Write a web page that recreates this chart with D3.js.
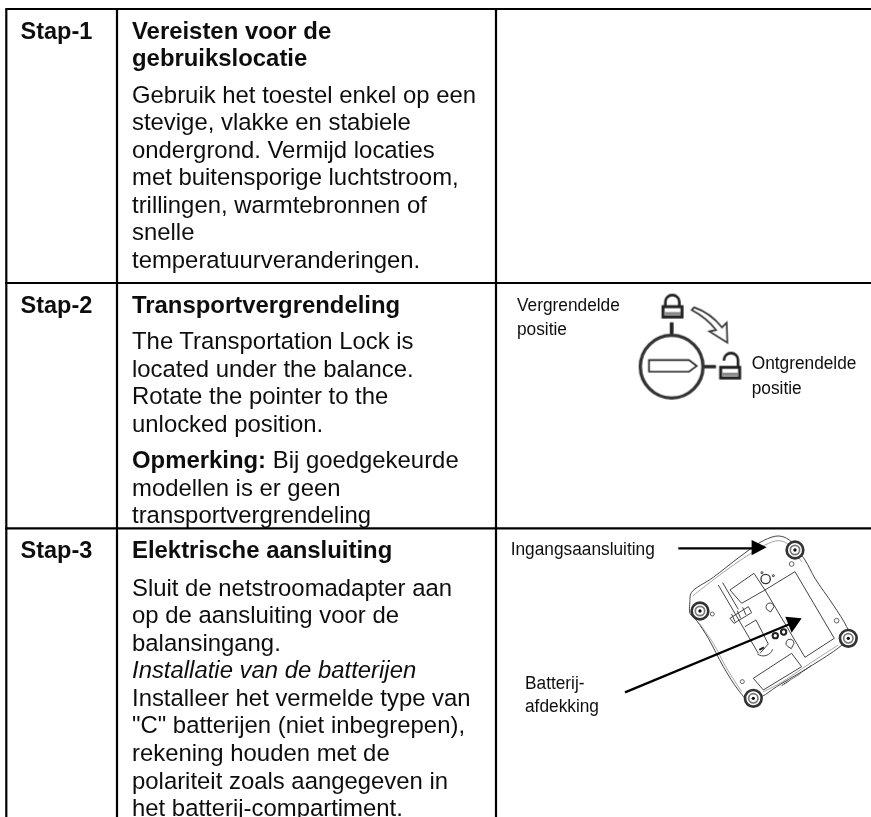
<!DOCTYPE html>
<html>
<head>
<meta charset="utf-8">
<script src="https://cdn.jsdelivr.net/npm/d3@7"></script>
<style>
    html, body { margin: 0; padding: 0; background: #fff; }
    svg { display: block; }
    text { font-family: "Liberation Sans", Arial, sans-serif; fill: #111; }
</style>
</head>
<body>
<div id="chart"></div>
<script>
// step labels
var steps = ["Stap-1", "Stap-2", "Stap-3"];

// middle column, one list per step. b = bold, i = italic, gap = new paragraph
var step1Lines = [
    [{ t: "Vereisten voor de", b: 1 }],
    [{ t: "gebruikslocatie", b: 1 }],
    [{ t: "Gebruik het toestel enkel op een", gap: 1 }],
    [{ t: "stevige, vlakke en stabiele" }],
    [{ t: "ondergrond. Vermijd locaties" }],
    [{ t: "met buitensporige luchtstroom," }],
    [{ t: "trillingen, warmtebronnen of" }],
    [{ t: "snelle" }],
    [{ t: "temperatuurveranderingen." }]
];
var step2Lines = [
    [{ t: "Transportvergrendeling", b: 1 }],
    [{ t: "The Transportation Lock is", gap: 1 }],
    [{ t: "located under the balance." }],
    [{ t: "Rotate the pointer to the" }],
    [{ t: "unlocked position." }],
    [{ t: "Opmerking:", b: 1, gap: 1 }, { t: " Bij goedgekeurde" }],
    [{ t: "modellen is er geen" }],
    [{ t: "transportvergrendeling" }]
];
var step3Lines = [
    [{ t: "Elektrische aansluiting", b: 1 }],
    [{ t: "Sluit de netstroomadapter aan", gap: 1 }],
    [{ t: "op de aansluiting voor de" }],
    [{ t: "balansingang." }],
    [{ t: "Installatie van de batterijen", i: 1 }],
    [{ t: "Installeer het vermelde type van" }],
    [{ t: "\"C\" batterijen (niet inbegrepen)," }],
    [{ t: "rekening houden met de" }],
    [{ t: "polariteit zoals aangegeven in" }],
    [{ t: "het batterij-compartiment." }]
];
var stepLines = [step1Lines, step2Lines, step3Lines];

var width = 871,
    height = 817,
    rowTops = [9, 283, 528.3],
    colX = [6.3, 117, 496],
    fontSize = 23.9,
    lineStep = 27.55,
    paraGaps = [8.8, 8.8, 10.2];

var svg = d3.select("#chart").append("svg")
    .attr("width", width)
    .attr("height", height);

var defs = svg.append("defs");
defs.append("filter").attr("id", "soft")
    .append("feGaussianBlur").attr("stdDeviation", 0.35);
defs.append("filter").attr("id", "softer")
    .append("feGaussianBlur").attr("stdDeviation", 0.8);

// text of the table
var textLayer = svg.append("g").attr("filter", "url(#soft)");

steps.forEach(function (s, i) {
    var first = rowTops[i] + 29.6;

    textLayer.append("text")
        .attr("x", 20.5)
        .attr("y", first)
        .attr("font-size", 23.5)
        .attr("font-weight", "bold")
        .text(s);

    var y = first;
    stepLines[i].forEach(function (spans, n) {
        if (n > 0) y += lineStep + (spans[0].gap ? paraGaps[i] : 0);
        var line = textLayer.append("text")
            .attr("x", 132)
            .attr("y", y)
            .attr("font-size", fontSize)
            .attr("xml:space", "preserve");
        spans.forEach(function (sp) {
            line.append("tspan")
                .attr("font-weight", sp.b ? "bold" : "normal")
                .attr("font-style", sp.i ? "italic" : "normal")
                .text(sp.t);
        });
    });
});

// grid lines on top, the descenders in step 2 run into the rule
var grid = svg.append("g").attr("stroke", "#000").attr("stroke-width", 2.2);
rowTops.forEach(function (y) {
    grid.append("line").attr("x1", colX[0] - 1).attr("x2", width).attr("y1", y).attr("y2", y);
});
colX.forEach(function (x) {
    grid.append("line").attr("x1", x).attr("x2", x).attr("y1", rowTops[0]).attr("y2", height);
});

// callout labels, they are a narrowed Arial in the source
var calloutLabels = [
    { t: "Vergrendelde", x: 517, y: 311 },
    { t: "positie", x: 517, y: 334.5 },
    { t: "Ontgrendelde", x: 751.7, y: 369 },
    { t: "positie", x: 751.7, y: 393.5 },
    { t: "Ingangsaansluiting", x: 510.7, y: 555 },
    { t: "Batterij-", x: 525, y: 689 },
    { t: "afdekking", x: 525, y: 712 }
];
var labelLayer = svg.append("g").attr("filter", "url(#soft)");
calloutLabels.forEach(function (d) {
    labelLayer.append("text")
        .attr("transform", "translate(" + d.x + "," + d.y + ") scale(0.91,1)")
        .attr("font-size", 19)
        .text(d.t);
});

var line = d3.line();
var curve = d3.line().curve(d3.curveCatmullRom);

// lock dial, coordinates are 3x
var dial = svg.append("g")
    .attr("transform", "translate(510,290) scale(0.3333)")
    .attr("filter", "url(#softer)")
    .attr("fill", "none")
    .attr("stroke", "#222");

dial.append("circle").attr("cx", 485).attr("cy", 230).attr("r", 94).attr("stroke-width", 10).attr("stroke", "#333");
dial.append("path").attr("stroke-width", 5)
    .attr("d", line([[417, 210], [537, 210], [560, 228], [537, 245], [417, 245]]) + "Z");
dial.append("path").attr("stroke-width", 11).attr("d", line([[485, 97], [485, 132]]));
dial.append("path").attr("stroke-width", 10).attr("d", line([[583, 230], [618, 230]]));

// closed lock
dial.append("rect").attr("x", 459).attr("y", 50).attr("width", 57).attr("height", 31).attr("stroke-width", 9);
dial.append("path").attr("stroke-width", 8).attr("d", "M466,50 V36 A21,21 0 0 1 508,36 V50");
dial.append("rect").attr("x", 462).attr("y", 66).attr("width", 50).attr("height", 10).attr("fill", "#888").attr("stroke", "none");
// open lock
dial.append("rect").attr("x", 632).attr("y", 232).attr("width", 57).attr("height", 32).attr("stroke-width", 9);
dial.append("path").attr("stroke-width", 8).attr("d", "M642,212 V210 A21,21 0 0 1 684,210 V232");
dial.append("rect").attr("x", 636).attr("y", 248).attr("width", 50).attr("height", 10).attr("fill", "#888").attr("stroke", "none");

// curved arrow between the locks
dial.append("path").attr("stroke-width", 5).attr("stroke", "#333").attr("fill", "#fff")
    .attr("d", "M545,60 L552,52 Q600,68 636,112 L650,98 L652,158 L598,124 L618,120 Q590,84 545,60 Z");

// balance seen from below, coordinates are 3x
var scale = svg.append("g")
    .attr("transform", "translate(500,490) scale(0.3333)")
    .attr("filter", "url(#softer)")
    .attr("fill", "none")
    .attr("stroke", "#444")
    .attr("stroke-width", 3);

var outline = [
    [570, 335], [574, 308], [640, 262], [720, 200], [790, 152], [835, 138], [868, 150],
    [915, 210], [945, 265], [1000, 345], [1040, 410], [1050, 440], [1020, 470], [930, 530],
    [830, 590], [785, 620], [745, 630], [715, 600], [670, 530], [625, 445], [590, 392], [570, 370]
];
scale.append("path").attr("d", curve(outline.concat([outline[0]])));
scale.append("path").attr("stroke-width", 2).attr("stroke", "#777")
    .attr("d", curve([[578, 318], [650, 262], [730, 205], [795, 165], [835, 152], [860, 160], [905, 215]]));
scale.append("path").attr("stroke-width", 2).attr("stroke", "#777")
    .attr("d", curve([[598, 400], [640, 460], [680, 535], [725, 605]]));
scale.append("path").attr("stroke-width", 2).attr("stroke", "#777")
    .attr("d", curve([[790, 605], [840, 580], [930, 520], [1015, 465]]));

// battery cover
scale.append("path").attr("d", line([[795, 300], [885, 245], [1003, 445], [915, 502]]) + "Z");
// other panels
scale.append("path").attr("d", line([[690, 300], [762, 250], [795, 300], [725, 340]]) + "Z");
scale.append("path").attr("d", line([[760, 565], [875, 490], [905, 530], [790, 600]]) + "Z");
scale.append("path").attr("d", line([[690, 385], [745, 350], [755, 368], [702, 400]]) + "Z");
scale.append("path").attr("d", line([[735, 410], [768, 390], [805, 462], [780, 490]]));
// slot down the middle
scale.append("path").attr("d", line([[655, 285], [775, 490]]));
scale.append("path").attr("d", line([[668, 278], [715, 358]]));
scale.append("path").attr("d", "M772,492 A30,30 0 0 0 818,478");
scale.append("path").attr("d", line([[705, 395], [695, 372]]));
scale.append("path").attr("d", line([[722, 385], [712, 362]]));
scale.append("path").attr("d", line([[738, 375], [728, 352]]));
scale.append("path").attr("stroke", "#222").attr("stroke-width", 6).attr("d", line([[778, 480], [792, 472]]));
// U shaped recesses
scale.append("path").attr("d", "M802,360 A12,12 0 1 1 822,350 L812,366 Z");
scale.append("path").attr("d", "M864,470 A12,12 0 1 1 882,460 L874,476 Z");
// bottom label scribble
scale.append("path").attr("stroke-width", 2).attr("stroke", "#333").attr("d", line([[850, 583], [900, 552]]));
scale.append("path").attr("stroke-width", 3).attr("stroke", "#333").attr("stroke-dasharray", "5 2").attr("d", line([[900, 550], [932, 528]]));
scale.append("path").attr("stroke-width", 3).attr("stroke", "#333").attr("stroke-dasharray", "5 2").attr("d", line([[845, 587], [866, 574]]));

// small holes
[[875, 222, 7], [637, 372, 6], [1010, 392, 7], [727, 575, 6]].forEach(function (d) {
    scale.append("circle").attr("cx", d[0]).attr("cy", d[1]).attr("r", d[2]).attr("stroke-width", 2.5);
});
[[826, 437, 8], [851, 426, 8]].forEach(function (d) {
    scale.append("circle").attr("cx", d[0]).attr("cy", d[1]).attr("r", d[2]).attr("stroke", "#222").attr("stroke-width", 6);
});
// transport lock dial
scale.append("circle").attr("cx", 797).attr("cy", 267).attr("r", 14).attr("stroke", "#333").attr("stroke-width", 4);
scale.append("circle").attr("cx", 820).attr("cy", 257).attr("r", 3).attr("stroke", "#333");
scale.append("circle").attr("cx", 786).attr("cy", 248).attr("r", 3).attr("stroke", "#333");

// feet
[[885, 180], [600, 363], [1045, 445], [760, 625]].forEach(function (d) {
    scale.append("circle").attr("cx", d[0]).attr("cy", d[1]).attr("r", 25).attr("stroke", "#333").attr("stroke-width", 8).attr("fill", "#fff");
    scale.append("circle").attr("cx", d[0]).attr("cy", d[1]).attr("r", 14).attr("stroke", "#777").attr("stroke-width", 5);
    scale.append("circle").attr("cx", d[0]).attr("cy", d[1]).attr("r", 5).attr("stroke", "none").attr("fill", "#111");
});

// the two black arrows
var arrows = svg.append("g")
    .attr("transform", "translate(500,490) scale(0.3333)")
    .attr("filter", "url(#soft)");
arrows.append("path").attr("stroke", "#000").attr("stroke-width", 7).attr("d", line([[535, 175], [765, 175]]));
arrows.append("path").attr("fill", "#000").attr("d", line([[755, 150], [800, 172], [755, 196]]) + "Z");
arrows.append("path").attr("stroke", "#000").attr("stroke-width", 7).attr("d", line([[375, 607], [870, 402]]));
arrows.append("path").attr("fill", "#000").attr("d", line([[856, 380], [905, 385], [875, 428]]) + "Z");
</script>
</body>
</html>
